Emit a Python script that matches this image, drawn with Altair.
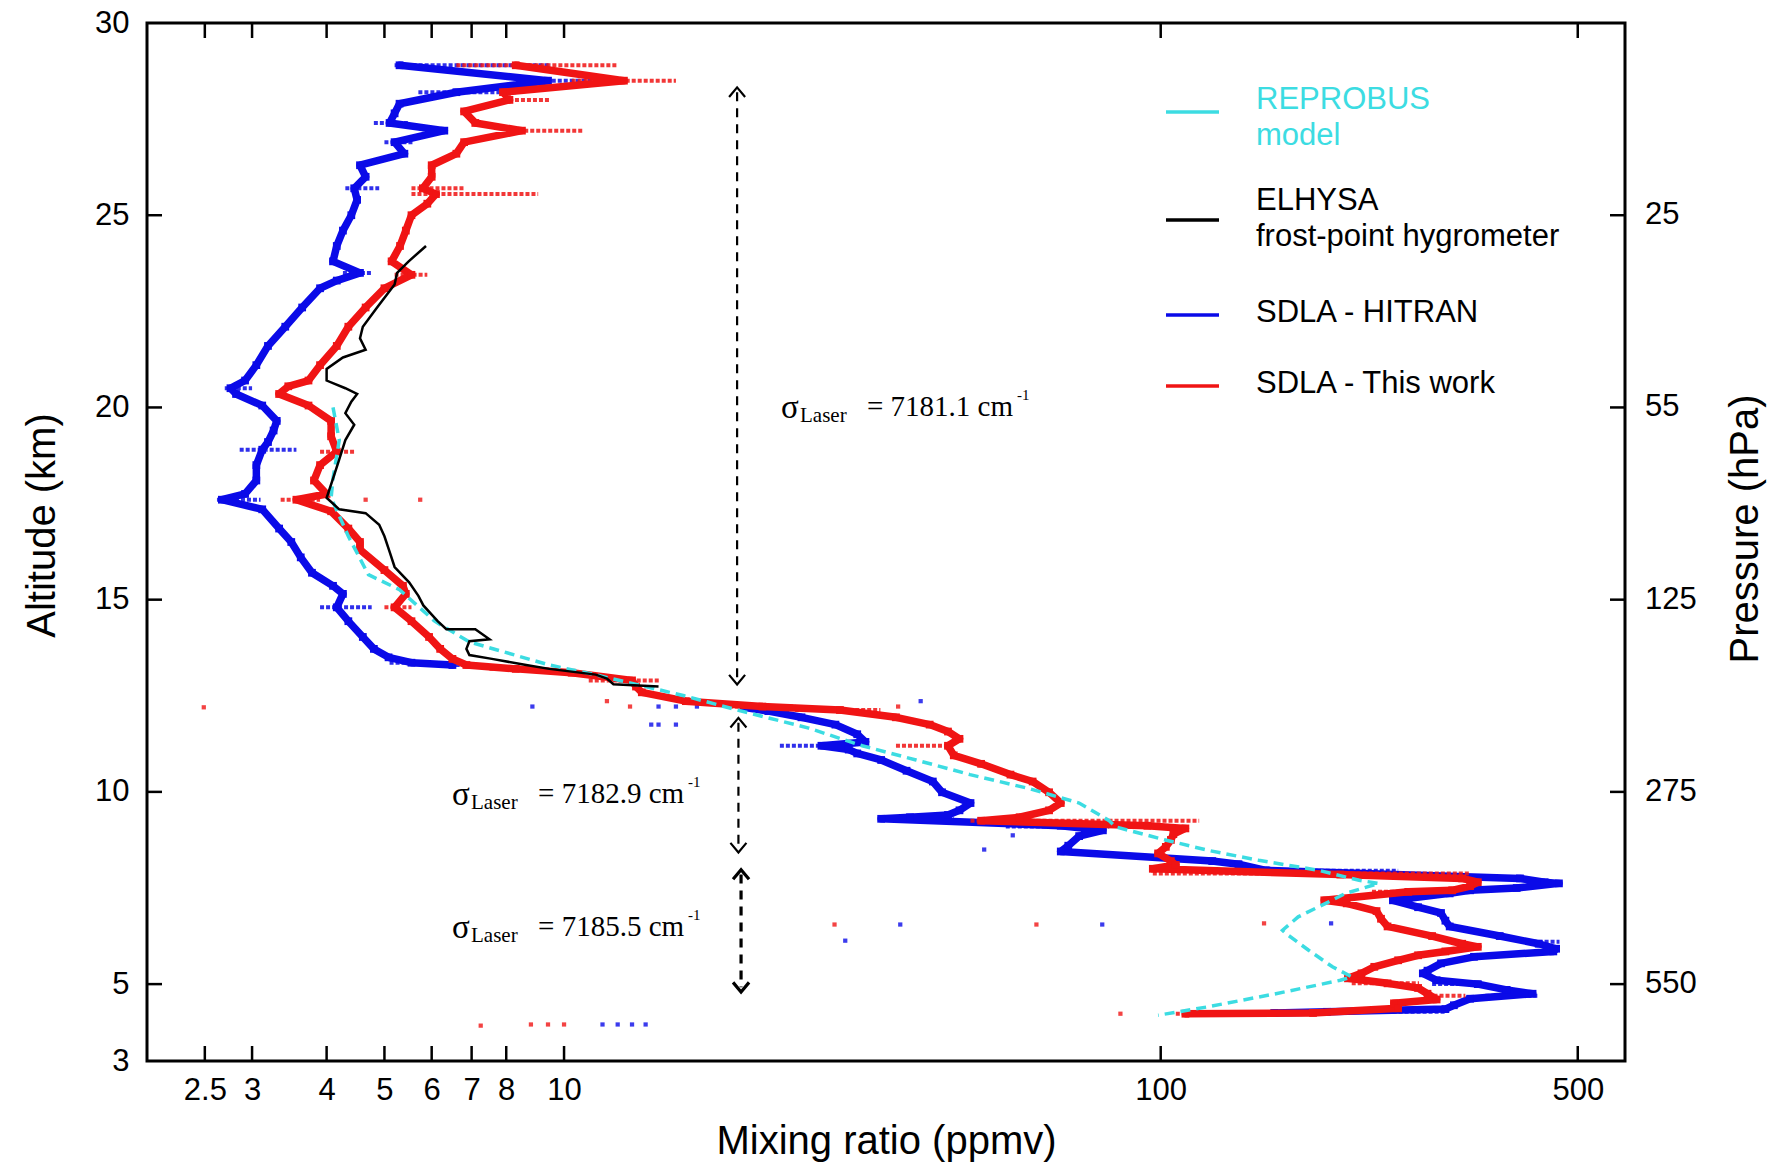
import altair as alt
import pandas as pd

# ---------------- data ----------------
x_ticks = [2.5, 3, 4, 5, 6, 7, 8, 10, 100, 500]
alt_ticks = [3, 5, 10, 15, 20, 25, 30]
inner_alt_ticks = [5, 10, 15, 20, 25]
pressure_alt = [25, 20, 15, 10, 5]
pressure_lbl = ["25", "55", "125", "275", "550"]

# SDLA - HITRAN (blue), upper branch
blue_up_alt = [28.9, 28.5, 28.2, 27.9, 27.65, 27.4, 27.2, 26.9, 26.6, 26.3, 26.0, 25.7, 25.4, 25.0,
               24.6, 24.2, 23.8, 23.5, 23.3, 23.1, 22.6, 22.1, 21.6, 21.1, 20.7, 20.5, 20.35, 20.05,
               19.65, 19.4, 19.1, 18.9, 18.5, 18.1, 17.75, 17.6, 17.35, 16.85, 16.5, 16.1, 15.7,
               15.36, 15.15, 14.8, 14.44, 14.03, 13.72, 13.5, 13.36, 13.3]
blue_up_val = [5.3, 9.4, 6.6, 5.3, 5.2, 5.1, 6.3, 5.2, 5.4, 4.55, 4.65, 4.45, 4.5, 4.4,
               4.26, 4.16, 4.1, 4.55, 4.16, 3.9, 3.64, 3.41, 3.19, 3.05, 2.92, 2.76, 2.82, 3.12,
               3.3, 3.26, 3.19, 3.12, 3.05, 3.05, 2.92, 2.67, 3.12, 3.33, 3.49, 3.62, 3.78,
               4.1, 4.26, 4.16, 4.35, 4.6, 4.8, 5.08, 5.55, 6.5]
# blue, lower branch
blue_lo_alt = [12.2, 12.1, 11.94, 11.75, 11.5, 11.3, 11.2, 11.1, 11.0, 10.83, 10.55, 10.27, 9.99,
               9.71, 9.52, 9.4, 9.34, 9.3, 9.12, 9.0, 8.85, 8.6, 8.45, 8.2, 8.12, 7.96, 7.75, 7.65,
               7.62, 7.5, 7.44, 7.36, 7.18, 7.0, 6.85, 6.65, 6.5, 6.25, 6.05, 5.92, 5.85, 5.71,
               5.54, 5.35, 5.28, 5.1, 5.0, 4.85, 4.75, 4.62, 4.45, 4.35, 4.28, 4.25]
blue_lo_val = [20, 22, 25, 28.5, 31, 32, 27, 30, 31, 34, 37.5, 41.5, 43,
               48, 46, 44, 38, 34, 68, 80, 73, 70, 68, 122, 135, 150, 400, 440,
               465, 395, 330, 305, 245, 270, 295, 300, 305, 370, 430, 460, 455, 335,
               295, 280, 275, 290, 340, 380, 420, 330, 310, 300, 190, 155]

# SDLA - This work (red)
red_alt = [28.9, 28.5, 28.2, 28.0, 27.7, 27.4, 27.2, 26.9, 26.6, 26.3, 26.0, 25.7, 25.55, 25.3,
           25.0, 24.6, 24.2, 23.8, 23.45, 23.1, 22.6, 22.1, 21.6, 21.1, 20.7, 20.55, 20.35, 20.05,
           19.65, 19.25, 18.85, 18.5, 18.1, 17.75, 17.6, 17.3, 16.85, 16.5, 16.3, 15.77, 15.36,
           15.15, 14.8, 14.44, 14.03, 13.72, 13.46, 13.3, 13.2, 13.1, 12.9, 12.74, 12.59, 12.36,
           12.22, 12.13, 11.94, 11.75, 11.57, 11.38, 11.2, 10.95, 10.73, 10.45, 10.27, 9.99, 9.71,
           9.52, 9.34, 9.25, 9.12, 9.05, 8.9, 8.75, 8.57, 8.4, 8.2, 8.1, 8.0, 7.85, 7.75, 7.65,
           7.55, 7.44, 7.4, 7.18, 7.1, 6.9, 6.7, 6.5, 6.25, 6.05, 5.97, 5.85, 5.75, 5.62, 5.45,
           5.28, 5.15, 5.02, 4.9, 4.75, 4.6, 4.5, 4.37, 4.25, 4.23]
red_val = [8.3, 12.6, 7.9, 8.1, 6.8, 7.1, 8.5, 6.8, 6.6, 6.0, 6.0, 5.8, 6.1, 5.9,
           5.55, 5.43, 5.31, 5.14, 5.55, 5.0, 4.65, 4.35, 4.16, 3.9, 3.73, 3.45, 3.33, 3.73,
           4.07, 4.07, 4.16, 3.9, 3.81, 4.0, 3.56, 4.07, 4.35, 4.55, 4.55, 5.0, 5.37,
           5.43, 5.2, 5.55, 5.94, 6.2, 6.5, 6.86, 8.3, 10.3, 13.0, 13.2, 13.5, 16,
           21.5, 29, 36, 41, 44, 46, 44, 45, 50, 56, 61, 65, 68,
           65, 58, 50, 95, 110, 105, 104, 102, 99, 104, 106, 97, 200, 320, 340,
           330, 308, 260, 188, 205, 230, 234, 240, 285, 320, 340, 300, 270, 250, 228,
           217, 206, 240, 270, 280, 290, 246, 250, 180, 110]

# ELHYSA frost-point hygrometer (black)
elh_alt = [24.2, 23.8, 23.5, 23.2, 22.6, 22.1, 21.8, 21.5, 21.3, 21.0, 20.7, 20.5, 20.35, 20.15,
           19.85, 19.55, 19.15, 18.65, 18.15, 17.65, 17.35, 17.25, 16.95, 16.65, 16.25, 15.85,
           15.45, 15.1, 14.85, 14.44, 14.23, 14.23, 13.97, 13.92, 13.72, 13.56, 13.46, 13.3,
           13.2, 13.05, 12.95, 12.8, 12.74]
elh_val = [5.87, 5.49, 5.25, 5.2, 4.86, 4.6, 4.55, 4.65, 4.26, 4.0, 4.0, 4.3, 4.5, 4.4,
           4.3, 4.45, 4.3, 4.2, 4.1, 4.0, 4.2, 4.65, 4.9, 5.0, 5.1, 5.2,
           5.5, 5.7, 5.81, 6.14, 6.35, 7.1, 7.5, 6.94, 6.86, 6.94, 7.57, 8.64,
           9.45, 11.3, 11.8, 12.1, 14.4]

# REPROBUS model (cyan, dashed)
rep_alt = [20.0, 19.15, 18.15, 17.65, 16.65, 15.65, 15.26, 14.44, 13.9, 13.3, 13.06, 12.5, 12.13,
           11.66, 11.2, 10.83, 10.45, 10.08, 9.71, 9.25, 9.09, 8.75, 8.48, 8.22, 7.96, 7.7, 7.62,
           7.36, 7.1, 6.75, 6.4, 6.32, 5.88, 5.45, 5.19, 5.1, 4.75, 4.41, 4.19]
rep_val = [4.1, 4.2, 4.1, 4.07, 4.35, 4.7, 5.3, 6.07, 6.94, 9.45, 11.2, 15.9, 19.5,
           25.7, 31.6, 38.9, 47.9, 60.4, 73, 82, 84, 101.8, 120, 146, 184, 215, 232,
           204, 189, 170, 160, 162, 177, 194, 209, 200, 156, 120, 99]

# horizontal scatter spreads (altitude, low, high)
blue_sp_alt = [28.9, 28.5, 28.2, 27.4, 26.9, 25.7, 23.5, 20.5, 18.9, 17.6, 14.8, 13.36, 13.3,
               11.2, 9.3, 9.1, 7.95, 7.48, 6.1, 5.0, 4.7, 4.28]
blue_sp_lo = [5.2, 8.3, 5.7, 4.8, 5.0, 4.3, 4.26, 2.7, 2.86, 2.62, 3.9, 5.1, 6.0,
              23, 34, 55, 150, 330, 420, 285, 350, 154]
blue_sp_hi = [9.5, 12.1, 8.3, 5.5, 5.6, 4.9, 4.76, 3.0, 3.56, 3.1, 4.76, 6.0, 7.0,
              29.5, 45, 82, 250, 400, 466, 350, 431, 300]
red_sp_alt = [28.9, 28.5, 28.0, 27.2, 25.7, 25.55, 23.45, 18.85, 17.6, 14.8, 13.2, 12.9, 12.22,
              12.13, 11.2, 9.25, 7.88, 7.4, 5.02, 4.7, 4.23]
red_sp_lo = [6.6, 10.3, 7.9, 8.0, 5.55, 5.55, 5.2, 3.9, 3.35, 5.0, 7.5, 11.0, 18.9,
             24.4, 36, 48, 97, 226, 209, 280, 106]
red_sp_hi = [12.3, 15.4, 9.5, 10.8, 6.8, 9.05, 5.9, 4.45, 3.9, 5.55, 9.0, 14.5, 24.4,
             33.9, 44.6, 116, 330, 300, 271, 324, 189]

# isolated points
blue_out_alt = [12.22, 12.22, 12.22, 12.22, 11.75, 11.75, 11.75, 12.36, 8.87, 8.5, 6.55, 6.13,
                6.55, 6.58, 3.95, 3.95, 3.95, 3.95]
blue_out_val = [8.85, 14.4, 15.4, 16.7, 14.0, 14.4, 15.4, 39.6, 56.5, 50.6, 36.6, 29.6,
                79.8, 193, 11.6, 12.3, 13.0, 13.7]
red_out_alt = [12.2, 12.22, 12.36, 12.22, 17.6, 17.6, 6.55, 6.55, 6.58, 3.92, 3.95, 3.95, 3.95, 4.23]
red_out_val = [2.49, 12.9, 11.8, 36.3, 4.65, 5.74, 28.4, 61.9, 149, 7.25, 8.8, 9.4, 10.0, 85.6]

# annotations
ann_val = [23.1, 6.49, 6.49]
ann_alt = [19.98, 9.92, 6.46]
ann_num = ["= 7181.1 cm", "= 7182.9 cm", "= 7185.5 cm"]
arrow_val = [19.5, 19.6, 19.8]
arrow_top = [28.2, 11.8, 7.85]
arrow_bot = [12.92, 8.55, 4.92]

legend_lines = [["REPROBUS", "model"], ["ELHYSA", "frost-point hygrometer"],
                ["SDLA - HITRAN"], ["SDLA - This work"]]

# ---------------- styles / layout ----------------
W, H = 1478, 1038
SANS = "Liberation Sans"
SERIF = "Liberation Serif"
BLUE = "#0a0ae8"
RED = "#f01414"
CYAN = "#3cdce2"
BLACK = "#000000"
LBL = 31
TTL = 40

XS = alt.Scale(type="log", domain=[2, 600])
YS = alt.Scale(domain=[3, 30])

ax_common = dict(ticks=False, tickSize=0, domain=False, grid=False, labelFont=SANS,
                 labelFontSize=LBL, labelColor="black", titleFont=SANS, titleFontSize=TTL,
                 titleFontWeight="normal", titleColor="black", labelOverlap=False, labelFlush=False)
AX_X = alt.Axis(values=x_ticks, format="~g", labelPadding=14,
                title="Mixing ratio (ppmv)", titlePadding=16, **ax_common)
AX_Y = alt.Axis(values=alt_ticks, format="d", labelPadding=18, titleY=H / 2 - 17,
                title="Altitude (km)", titlePadding=32, **ax_common)


def ex(f="v"):
    return alt.X(f"{f}:Q", scale=XS, axis=AX_X)


def ey(f="alt"):
    return alt.Y(f"{f}:Q", scale=YS, axis=AX_Y)


def prof(a, v):
    return pd.DataFrame({"alt": a, "v": v, "i": list(range(len(a)))})


def spread(a, lo, hi):
    return pd.DataFrame({"alt": a, "v": lo, "hi": hi})


one = pd.DataFrame({"k": [0]})
layers = []


def scatter_profile(df, color, sw=7.5, size=60):
    ln = alt.Chart(df).mark_line(color=color, strokeWidth=sw, strokeJoin="round",
                                 strokeCap="round", clip=True).encode(
        x=ex(), y=ey(), order="i:Q")
    pt = alt.Chart(df).mark_square(color=color, size=size, opacity=1, clip=True).encode(
        x=ex(), y=ey())
    return [ln, pt]


def spread_layer(df, color):
    return alt.Chart(df).mark_rule(color=color, strokeWidth=4, opacity=0.85,
                                   strokeDash=[4, 2], clip=True).encode(
        x=ex(), x2="hi:Q", y=ey())


def out_layer(df, color):
    return alt.Chart(df).mark_square(color=color, size=18, opacity=0.8, clip=True).encode(
        x=ex(), y=ey())


layers += [spread_layer(spread(blue_sp_alt, blue_sp_lo, blue_sp_hi), BLUE)]
layers += scatter_profile(prof(blue_up_alt, blue_up_val), BLUE)
layers += scatter_profile(prof(blue_lo_alt, blue_lo_val), BLUE)
layers += [out_layer(prof(blue_out_alt, blue_out_val), BLUE)]
layers += [spread_layer(spread(red_sp_alt, red_sp_lo, red_sp_hi), RED)]
layers += scatter_profile(prof(red_alt, red_val), RED)
layers += [out_layer(prof(red_out_alt, red_out_val), RED)]

layers.append(alt.Chart(prof(rep_alt, rep_val)).mark_line(
    color=CYAN, strokeWidth=3.5, strokeDash=[10, 6], clip=True).encode(x=ex(), y=ey(), order="i:Q"))
layers.append(alt.Chart(prof(elh_alt, elh_val)).mark_line(
    color=BLACK, strokeWidth=2.5, clip=True).encode(x=ex(), y=ey(), order="i:Q"))

# arrows (the lowest one drawn bolder)
arr = pd.DataFrame({"v": arrow_val, "alt": arrow_top, "alt2": arrow_bot})
for part, sw in ((arr.iloc[:2], 2.2), (arr.iloc[2:], 3.2)):
    layers.append(alt.Chart(part).mark_rule(color=BLACK, strokeWidth=sw, strokeDash=[9, 7]).encode(
        x=ex(), y=ey(), y2="alt2:Q"))
    layers.append(alt.Chart(part).mark_point(shape="M-1,0.6L0,-0.6L1,0.6", filled=False, size=256,
                                             strokeWidth=sw, color=BLACK, opacity=1).encode(
        x=ex(), y=ey()))
    layers.append(alt.Chart(part).mark_point(shape="M-1,-0.6L0,0.6L1,-0.6", filled=False, size=256,
                                             strokeWidth=sw, color=BLACK, opacity=1).encode(
        x=ex(), y=ey("alt2")))

# sigma annotations
ann = pd.DataFrame({"v": ann_val, "alt": ann_alt, "num": ann_num})
layers.append(alt.Chart(ann).mark_text(text="σ", font=SERIF, fontSize=33, align="left",
                                       baseline="middle", color=BLACK).encode(x=ex(), y=ey()))
layers.append(alt.Chart(ann).mark_text(text="Laser", font=SERIF, fontSize=21, align="left",
                                       baseline="middle", dx=19, dy=8, color=BLACK).encode(x=ex(), y=ey()))
layers.append(alt.Chart(ann).mark_text(font=SERIF, fontSize=29, align="left",
                                       baseline="middle", dx=86, dy=-1, color=BLACK).encode(
    x=ex(), y=ey(), text="num:N"))
layers.append(alt.Chart(ann).mark_text(text="-1", font=SERIF, fontSize=15, align="left",
                                       baseline="middle", dx=236, dy=-13, color=BLACK).encode(x=ex(), y=ey()))

# inward ticks on all four sides
xt = pd.DataFrame({"v": x_ticks})
yt = pd.DataFrame({"alt": inner_alt_ticks})
pt_df = pd.DataFrame({"alt": pressure_alt, "lbl": pressure_lbl})
TL = 15
layers.append(alt.Chart(xt).mark_rule(color=BLACK, strokeWidth=2.5).encode(
    x=ex(), y=alt.value(H), y2=alt.value(H - TL)))
layers.append(alt.Chart(xt).mark_rule(color=BLACK, strokeWidth=2.5).encode(
    x=ex(), y=alt.value(0), y2=alt.value(TL)))
layers.append(alt.Chart(yt).mark_rule(color=BLACK, strokeWidth=2.5).encode(
    y=ey(), x=alt.value(0), x2=alt.value(TL)))
layers.append(alt.Chart(pt_df).mark_rule(color=BLACK, strokeWidth=2.5).encode(
    y=ey(), x=alt.value(W - TL), x2=alt.value(W)))
# right (pressure) axis labels and title
layers.append(alt.Chart(pt_df).mark_text(font=SANS, fontSize=LBL, align="left", baseline="middle",
                                         color=BLACK).encode(
    y=ey(), x=alt.value(W + 20), text="lbl:N"))
layers.append(alt.Chart(one).mark_text(text="Pressure (hPa)", font=SANS, fontSize=TTL, angle=270,
                                       align="center", baseline="middle", color=BLACK).encode(
    x=alt.value(W + 121), y=alt.value(H / 2 - 13)))

# legend (drawn manually)
leg_colors = [CYAN, BLACK, BLUE, RED]
leg_text_colors = [CYAN, BLACK, BLACK, BLACK]
leg_line_y = [89, 197, 292, 363]
leg_text_y = [[77, 113], [178, 214], [290], [361]]
for lines, lc, tc, ly, tys in zip(legend_lines, leg_colors, leg_text_colors, leg_line_y, leg_text_y):
    layers.append(alt.Chart(one).mark_rule(color=lc, strokeWidth=3.5).encode(
        x=alt.value(1019), x2=alt.value(1072), y=alt.value(ly)))
    for txt, ty in zip(lines, tys):
        layers.append(alt.Chart(one).mark_text(text=txt, font=SANS, fontSize=31, align="left",
                                               baseline="middle", color=tc).encode(
            x=alt.value(1109), y=alt.value(ty)))

chart = alt.layer(*layers).properties(
    width=W, height=H,
    autosize=alt.AutoSizeParams(type="none"),
    padding={"left": 147, "top": 23, "right": 152, "bottom": 104},
    background="white",
).configure_view(stroke="black", strokeWidth=3)

chart.save("out.html", embed_options={"renderer": "svg", "actions": False})
